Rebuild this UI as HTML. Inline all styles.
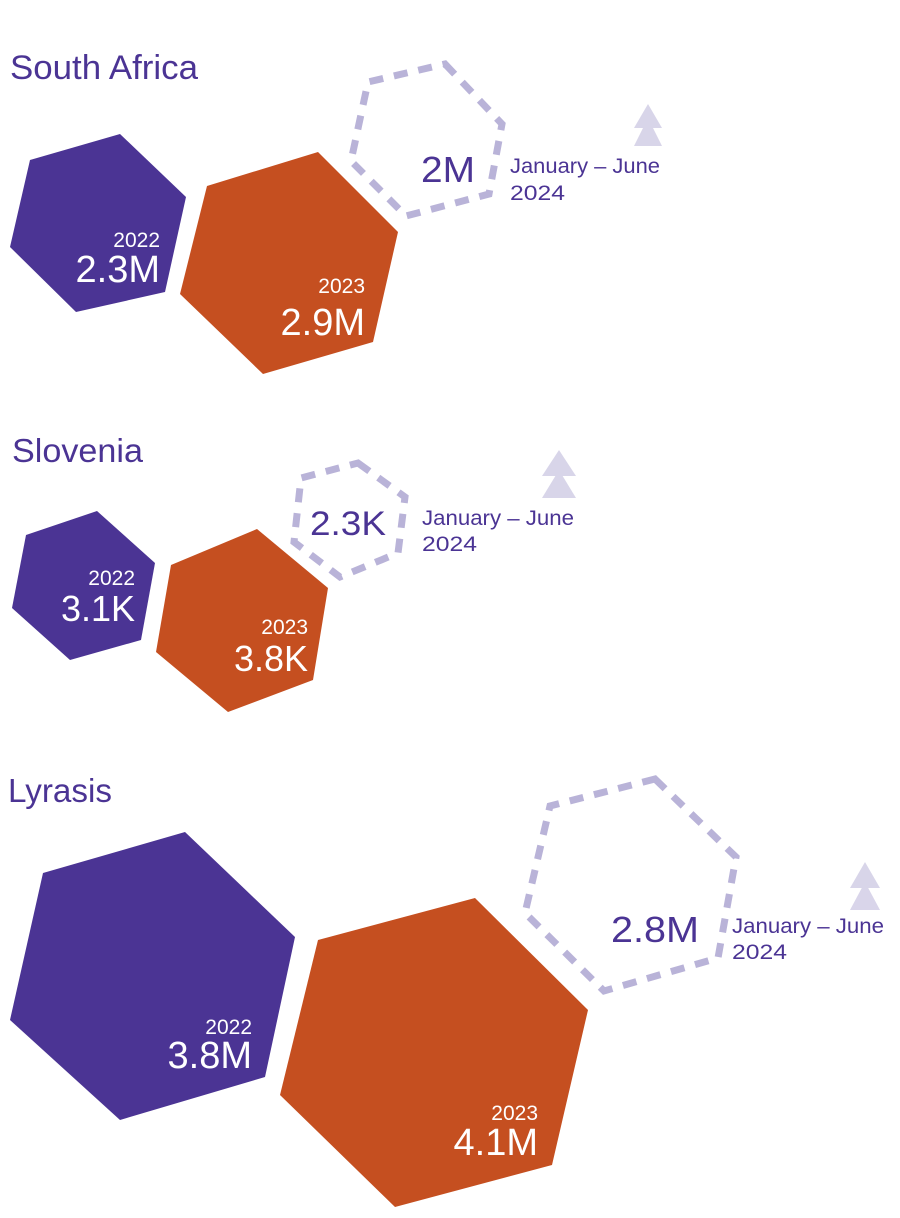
<!DOCTYPE html>
<html><head><meta charset="utf-8"><style>
html,body{margin:0;padding:0;background:#fff;}
svg{display:block;font-family:"Liberation Sans",sans-serif;}
</style></head><body>
<svg width="900" height="1218" viewBox="0 0 900 1218" xmlns="http://www.w3.org/2000/svg">
<g fill="none" stroke="#b9b3d8" stroke-width="7" stroke-dasharray="14 11">
<polygon points="445,64 502,124 489,194 406,216 351,161 368,82"/>
<polygon points="358,463 405,497 398,553 340,577 294,542 301,478"/>
<polygon points="655,779 736,857 718,958 604,991 525,913 550,806"/>
</g>
<g fill="#4b3494">
<polygon points="120,134 186,197 165,292 76,312 10,247 30,160"/>
<polygon points="97,511 155,563 141,640 70,660 12,608 26,535"/>
<polygon points="185,832 295,937 265,1077 120,1120 10,1020 43,873"/>
</g>
<g fill="#c54f20">
<polygon points="318,152 398,232 373,342 263,374 180,294 207,186"/>
<polygon points="257,529 328,588 313,680 228,712 156,652 171,565"/>
<polygon points="475,898 588,1010 552,1165 395,1207 280,1095 318,940"/>
</g>
<g fill="#b9b3d8" opacity="0.55">
<polygon points="648,104 662,128 634,128"/><polygon points="648,118 662,146 634,146"/>
<polygon points="559,450 576,476 542,476"/><polygon points="559,470 576,498 542,498"/>
<polygon points="865,862 880,888 850,888"/><polygon points="865,882 880,910 850,910"/>
</g>
<g fill="#4b3494">
<text x="10" y="79" font-size="34" textLength="188" lengthAdjust="spacingAndGlyphs">South Africa</text>
<text x="12" y="462" font-size="33" textLength="131" lengthAdjust="spacingAndGlyphs">Slovenia</text>
<text x="8" y="802" font-size="33" textLength="104" lengthAdjust="spacingAndGlyphs">Lyrasis</text>
<text x="421" y="182" font-size="36" textLength="54" lengthAdjust="spacingAndGlyphs">2M</text>
<text x="510" y="173" font-size="21" textLength="150" lengthAdjust="spacingAndGlyphs">January – June</text>
<text x="510" y="200" font-size="21" textLength="55" lengthAdjust="spacingAndGlyphs">2024</text>
<text x="310" y="535" font-size="34" textLength="76" lengthAdjust="spacingAndGlyphs">2.3K</text>
<text x="422" y="525" font-size="21" textLength="152" lengthAdjust="spacingAndGlyphs">January – June</text>
<text x="422" y="551" font-size="21" textLength="55" lengthAdjust="spacingAndGlyphs">2024</text>
<text x="611" y="942" font-size="36" textLength="88" lengthAdjust="spacingAndGlyphs">2.8M</text>
<text x="732" y="933" font-size="21" textLength="152" lengthAdjust="spacingAndGlyphs">January – June</text>
<text x="732" y="959" font-size="21" textLength="55" lengthAdjust="spacingAndGlyphs">2024</text>
</g>
<g fill="#fff" text-anchor="end">
<text x="160" y="247" font-size="21">2022</text>
<text x="160" y="282" font-size="38">2.3M</text>
<text x="365" y="293" font-size="21">2023</text>
<text x="365" y="335" font-size="38">2.9M</text>
<text x="135" y="585" font-size="21">2022</text>
<text x="135" y="621" font-size="36">3.1K</text>
<text x="308" y="634" font-size="21">2023</text>
<text x="308" y="671" font-size="36">3.8K</text>
<text x="252" y="1034" font-size="21">2022</text>
<text x="252" y="1068" font-size="38">3.8M</text>
<text x="538" y="1120" font-size="21">2023</text>
<text x="538" y="1155" font-size="38">4.1M</text>
</g>
</svg>
</body></html>
